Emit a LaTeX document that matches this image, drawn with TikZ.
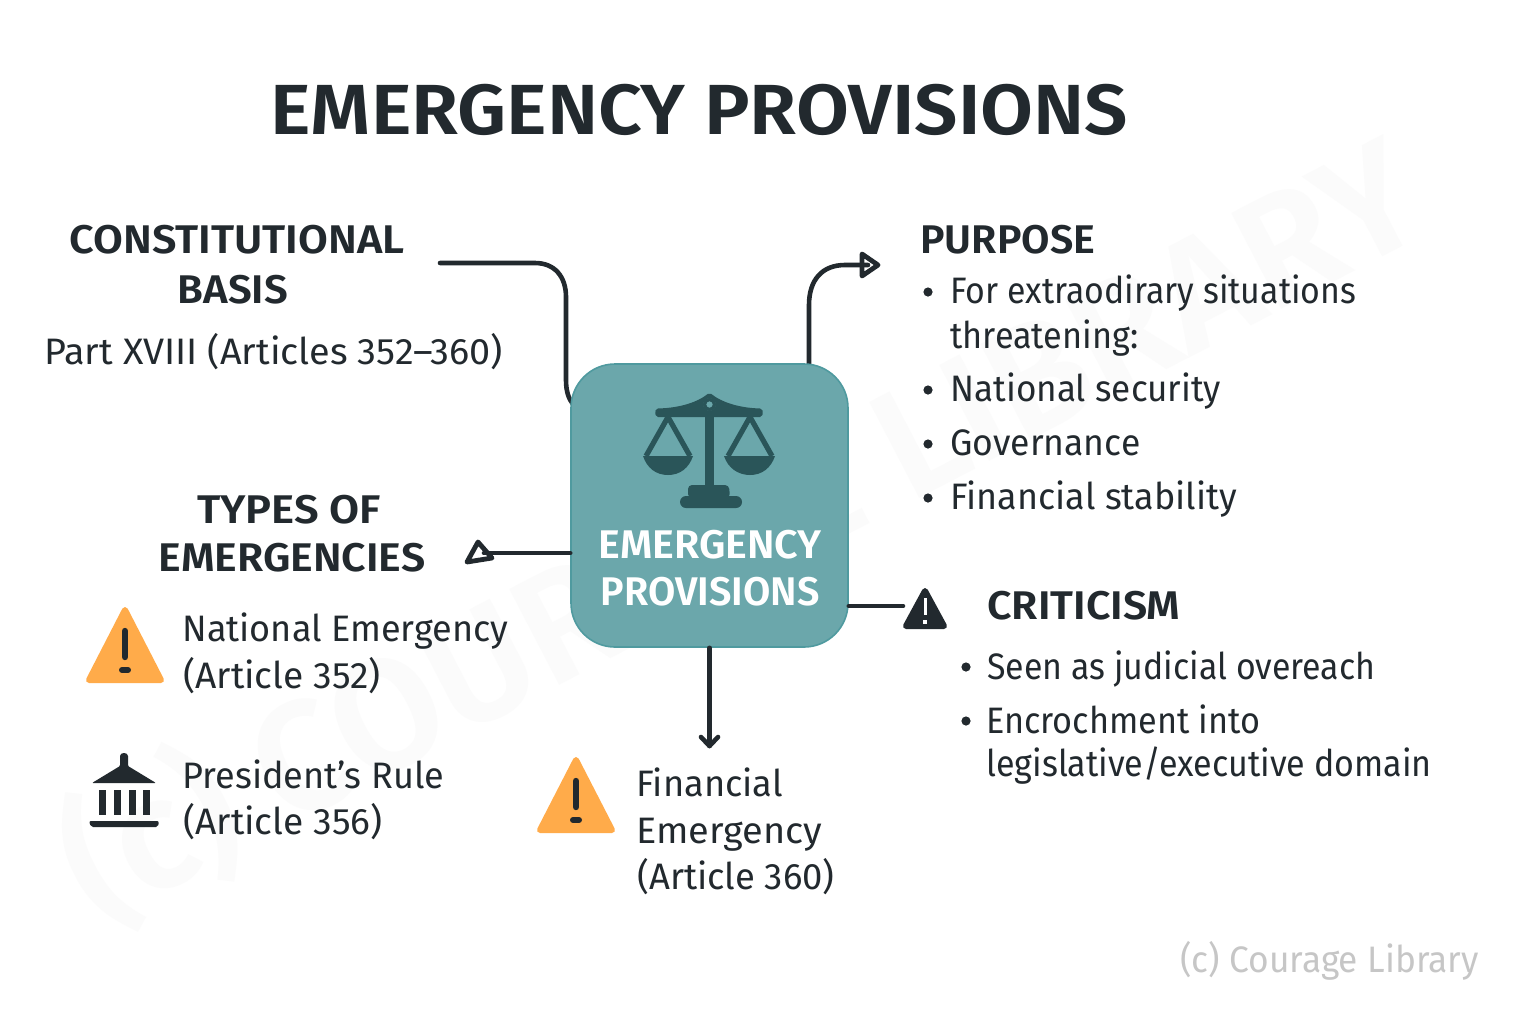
\documentclass[tikz,border=0pt]{standalone}
\usepackage{fontspec}
\setmainfont{Fira Sans}[BoldFont={Fira Sans SemiBold}]
\definecolor{ink}{HTML}{22292E}
\definecolor{teal}{HTML}{6BA7AB}
\definecolor{tealedge}{HTML}{4F9A9F}
\definecolor{tealdark}{HTML}{2A5559}
\definecolor{warn}{HTML}{FFAB4A}
\definecolor{wm}{HTML}{FBFBFB}
\newcommand{\sx}[2]{\scalebox{#1}[1]{#2}}
\tikzset{
  txt/.style={anchor=base west,inner sep=0pt,text=ink,font=\fontsize{18.4}{18.4}\selectfont},
  head/.style={anchor=base,inner sep=0pt,text=ink,font=\fontsize{20}{20}\selectfont\bfseries},
  headw/.style={head,anchor=base west},
  conn/.style={draw=ink,line width=2.3pt,line cap=round,line join=round},
  dotb/.style={circle,fill=ink,inner sep=0pt,minimum size=4.6pt},
}
\newcommand{\warnicon}[2]{%
  \begin{scope}[shift={(#1,#2)}]
   \fill[warn,draw=warn,line width=3pt,line join=round] (0,-72)--(36,-2)--(-36,-2)--cycle;
   \draw[ink,line width=3.2pt,line cap=round] (0,-51)--(0,-25);
   \draw[ink,line width=3pt,line cap=round] (-3,-12)--(3,-12);
  \end{scope}}
\begin{document}
\begin{tikzpicture}[x=0.5pt,y=-0.5pt]
\useasboundingbox (0,0) rectangle (1536,1024);
\fill[white] (0,0) rectangle (1536,1024);
\node[rotate=27.5,text=wm,font=\fontsize{78}{78}\selectfont\bfseries,inner sep=0pt] (wmark) at (740,530) {(c) COURAGE LIBRARY};

% centre box and connector ends
\coordinate (cbasis) at (440,263);
\coordinate (cpurpose) at (868,265);
\coordinate (ctypes) at (484,553);
\coordinate (cfin) at (709.5,746);
\coordinate (ccrit) at (903,606);
\coordinate (boxtop) at (809,370);
\coordinate (boxleft) at (574,405);

\draw[conn] (cbasis) -- (535,263) .. controls (555,263) and (566,277) .. (566,297) -- (566,380) .. controls (566,392) and (569,400) .. (boxleft);
\draw[conn] (boxtop) -- (809,305) .. controls (809,280) and (822,265) .. (845,265) -- (cpurpose);

\node[draw=tealedge,line width=0.8pt,fill=teal,rounded corners=22pt,minimum width=138.5pt,minimum height=141.5pt,inner sep=0pt] (box) at (709.5,505.5) {};

\draw[conn] (box.west |- ctypes) -- (ctypes);
\draw[conn] (box.east |- ccrit) -- (ccrit);
\draw[conn] (box.south -| cfin) -- (cfin);
\draw[conn] (701,737) -- (cfin) -- (718,737);

% arrow heads
\draw[conn,line width=2.4pt] (862,254) -- (878,265) -- (862,276) -- cycle;
\draw[conn,line width=2.4pt] (478,542) -- (492,558) -- (467,562) -- cycle;

% scales
\begin{scope}[tealdark]
 \fill[rounded corners=1pt] (656,408.5) .. controls (680,408) and (698,402) .. (709.5,392.5) .. controls (721,402) and (739,408) .. (762,408.5) -- (763,412) -- (762,417) -- (656,417) -- (655,412) -- cycle;
 \fill[teal] (709.5,404.5) circle (6);
 \draw[tealdark,line width=1.6pt,fill=teal] (709.5,404.5) circle (5);
 \fill (705,416) rectangle (714,490);
 \fill[rounded corners=2pt] (688,498) -- (688,485) -- (729,485) -- (730,498) -- cycle;
 \fill[rounded corners=3pt] (680,508) -- (680,496) -- (742,496) -- (742,508) -- cycle;
 \draw[line width=2.6pt,line join=miter] (646,456) -- (668,417) -- (690,456);
 \draw[line width=2.6pt,line join=miter] (728,456) -- (750,417) -- (772,456);
 \fill (643,456) -- (693,456) .. controls (689,468) and (680,475) .. (668,475) .. controls (656,475) and (647,468) .. cycle;
 \fill (724,456) -- (775,456) .. controls (771,468) and (762,475) .. (750,475) .. controls (738,475) and (728,468) .. cycle;
\end{scope}

% texts
\node[headw,font=\fontsize{35.5}{35.5}\selectfont\bfseries] (title) at (270,134) {\sx{1.08}{EMERGENCY PROVISIONS}};
\node[head] (t1) at (237,253) {\sx{1.08}{CONSTITUTIONAL}};
\node[head] (t2) at (233,303) {\sx{1.05}{BASIS}};
\node[txt] (t3) at (44,364) {\sx{1.027}{Part XVIII (Articles 352–360)}};
\node[head] (t4) at (289,523) {\sx{1.09}{TYPES OF}};
\node[head] (t5) at (292,571) {\sx{1.07}{EMERGENCIES}};
\node[txt] (t6) at (182,641) {\sx{0.98}{National Emergency}};
\node[txt] (t7) at (183,688) {\sx{1.01}{(Article 352)}};
\node[txt] (t8) at (182,788) {\sx{0.98}{President’s Rule}};
\node[txt] (t9) at (183,834) {\sx{1.01}{(Article 356)}};
\node[txt] (t10) at (636,796) {\sx{0.985}{Financial}};
\node[txt] (t11) at (636,843) {\sx{1.03}{Emergency}};
\node[txt] (t12) at (637,889) {\sx{0.99}{(Article 360)}};
\node[headw] (t13) at (920,253) {\sx{1.03}{PURPOSE}};
\node[txt] (t14) at (950,303) {\sx{0.92}{For extraodirary situations}};
\node[txt] (t15) at (950,348) {\sx{0.93}{threatening:}};
\node[txt] (t16) at (950,401) {\sx{0.954}{National security}};
\node[txt] (t17) at (950,455) {\sx{0.965}{Governance}};
\node[txt] (t18) at (950,509) {\sx{0.976}{Financial stability}};
\node[headw] (t19) at (987,619) {\sx{1.07}{CRITICISM}};
\node[txt] (t20) at (987,679) {\sx{0.92}{Seen as judicial overeach}};
\node[txt] (t21) at (986,733) {\sx{0.93}{Encrochment into}};
\node[txt] (t22) at (986,776) {\sx{0.925}{legislative/executive domain}};
\node[anchor=base west,inner sep=0pt,text=gray!45,font=\fontsize{18.4}{18.4}\selectfont] (t23) at (1180,972) {\sx{0.96}{(c) Courage Library}};
\node[head,text=white] (t24) at (710,558) {\sx{1.03}{EMERGENCY}};
\node[head,text=white] (t25) at (710,605) {\sx{0.99}{PROVISIONS}};

\foreach \n/\x/\y in {a/928/292,b/928/390,c/928/444,d/928/498,e/966/667,f/966/721}
  \node[dotb] (bul\n) at (\x,\y) {};

% warning icons
\warnicon{125}{682}
\warnicon{576}{832}
\begin{scope}[shift={(925,628)}]
 \fill[ink,draw=ink,line width=3pt,line join=round] (0,-37)--(19,-2)--(-19,-2)--cycle;
 \draw[white,line width=1.5pt] (0,-30)--(0,-13);
 \fill[white] (-1.7,-8) rectangle (1.7,-4);
\end{scope}

% building icon
\begin{scope}[ink]
 \fill[rounded corners=0.5pt] (92,783) -- (120,766) -- (120,757) .. controls (120,752) and (128,752) .. (128,757) -- (128,766) -- (156,783) -- cycle;
 \foreach \x in {99,114,129,143} \fill (\x,790) rectangle (\x+7,815);
 \fill[rounded corners=1pt] (89,821) -- (159,821) -- (158,827) -- (91,827) -- cycle;
\end{scope}
\end{tikzpicture}
\end{document}
